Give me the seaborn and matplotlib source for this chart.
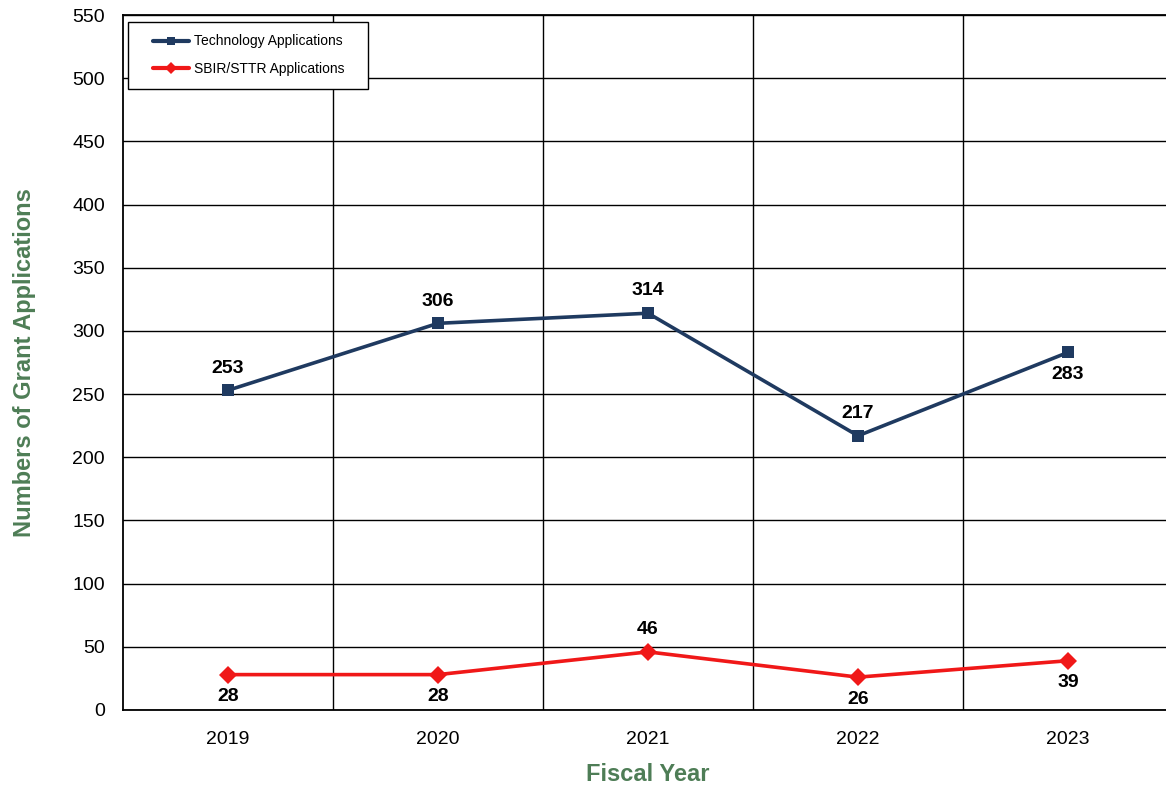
import pandas as pd
import seaborn as sns
import matplotlib.pyplot as plt
from matplotlib.ticker import FixedLocator
from matplotlib.legend_handler import HandlerLine2D

# values
years = ['2019', '2020', '2021', '2022', '2023']
tech_apps = [253, 306, 314, 217, 283]
sbir_apps = [28, 28, 46, 26, 39]
tech_label_pos = ['above', 'above', 'above', 'above', 'below']
sbir_label_pos = ['below', 'below', 'above', 'below', 'below']

df = pd.DataFrame({
    'Fiscal Year': years * 2,
    'Applications': tech_apps + sbir_apps,
    'Series': ['Technology Applications'] * 5 + ['SBIR/STTR Applications'] * 5,
})

sns.set_style('white')
plt.rcParams['font.family'] = ['Liberation Sans', 'DejaVu Sans']
plt.rcParams['text.color'] = 'black'

fig = plt.figure(figsize=(11.66, 7.85), dpi=100)
ax = fig.add_axes([123 / 1166, 75 / 785, 1050 / 1166, 695 / 785])

navy = '#1f3a60'
red = '#f01818'
ax = sns.lineplot(data=df, x='Fiscal Year', y='Applications', hue='Series', style='Series',
                  markers={'Technology Applications': 's', 'SBIR/STTR Applications': 'D'},
                  dashes=False, palette={'Technology Applications': navy, 'SBIR/STTR Applications': red},
                  linewidth=2.6, markersize=9, markeredgewidth=0, ax=ax)

ax.set_xlim(-0.5, 4.5)
ax.set_ylim(0, 550)
ax.set_yticks(range(0, 551, 50))
ax.xaxis.set_minor_locator(FixedLocator([0.5, 1.5, 2.5, 3.5]))
ax.grid(axis='y', which='major', color='black', linewidth=1)
ax.grid(axis='x', which='minor', color='black', linewidth=1)
ax.grid(axis='x', which='major', visible=False)
ax.set_axisbelow(True)
for s in ax.spines.values():
    s.set_color('black')
    s.set_linewidth(1.3)

ax.tick_params(axis='both', which='both', length=0, labelsize=14, colors='black')
ax.tick_params(axis='x', pad=15)
ax.tick_params(axis='y', pad=13)

green = '#4e7d56'
ax.set_xlabel('Fiscal Year', fontsize=17, fontweight='bold', color=green, labelpad=11)
ax.set_ylabel('Numbers of Grant Applications', fontsize=17, fontweight='bold', color=green, labelpad=26)

for vals, pos in [(tech_apps, tech_label_pos), (sbir_apps, sbir_label_pos)]:
    for i, (v, p) in enumerate(zip(vals, pos)):
        off = 16 if p == 'above' else -16
        ax.annotate(str(v), (i, v), xytext=(0, off), textcoords='offset points',
                    ha='center', va='center', fontsize=14, fontweight='bold', color='black')

handles, labels = ax.get_legend_handles_labels()
leg = ax.legend(handles, labels, loc='upper left', bbox_to_anchor=(0.005, 0.85, 240 / 1050, 0.14),
                mode='expand', borderaxespad=0, fontsize=10,
                frameon=True, fancybox=False, edgecolor='black', framealpha=1, borderpad=0.9,
                labelspacing=1.0, handlelength=3.5, handletextpad=0.3, title=None,
                handler_map={h: HandlerLine2D(xpad=0.9) for h in handles})
leg.get_frame().set_linewidth(1)
for h in leg.legend_handles:
    h.set_markersize(6)
    h.set_linewidth(3)
for t in leg.get_texts():
    t.set_color('black')

fig.savefig('out.png', dpi=100)
